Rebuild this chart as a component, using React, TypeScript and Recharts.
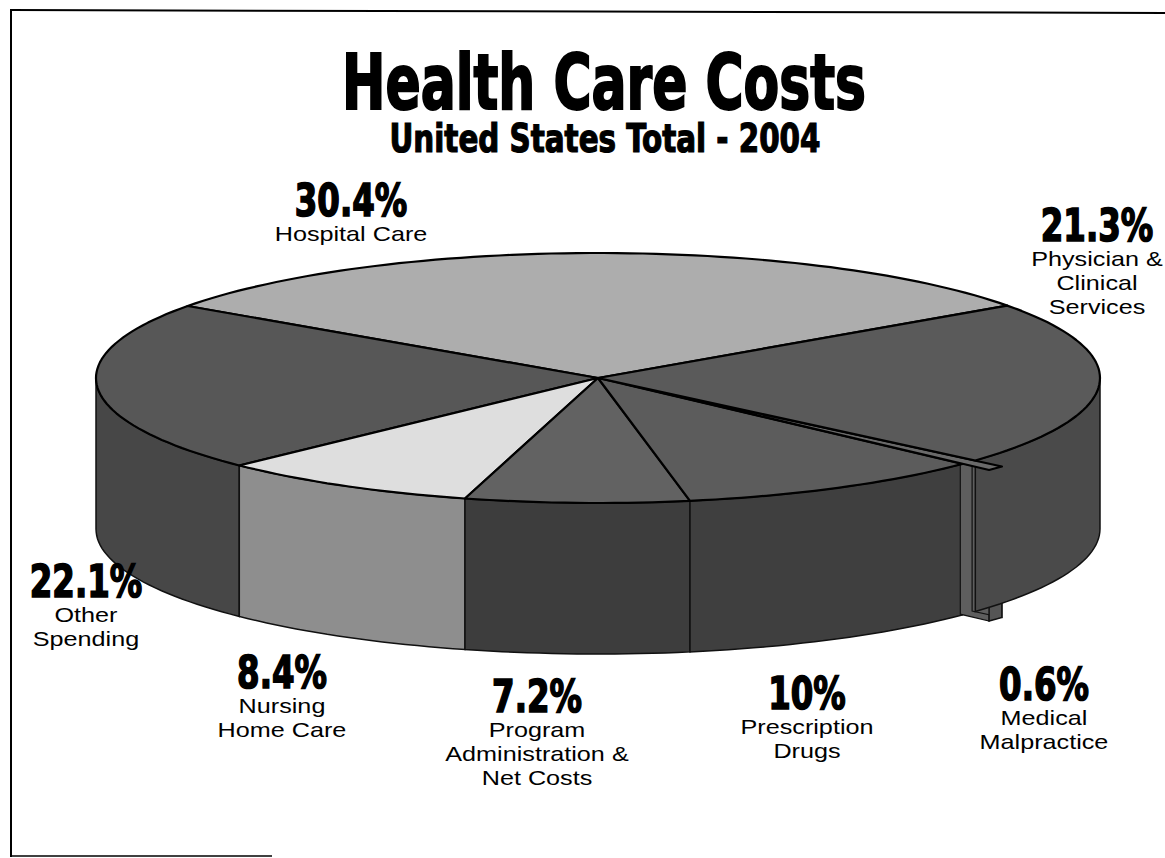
import { PieChart, Pie } from 'recharts';

// slices in counter-clockwise order, starting at the Hospital / Physician boundary
const CATEGORIES = [
  'Hospital Care',
  'Other Spending',
  'Nursing Home Care',
  'Program Administration & Net Costs',
  'Prescription Drugs',
  'Medical Malpractice',
  'Physician & Clinical Services',
];
const SHARES = [30.4, 22.1, 8.4, 7.2, 10, 0.6, 21.3];
const PCT_LABELS = ['30.4%', '22.1%', '8.4%', '7.2%', '10%', '0.6%', '21.3%'];
const NAME_LINES = [
  ['Hospital Care'],
  ['Other', 'Spending'],
  ['Nursing', 'Home Care'],
  ['Program', 'Administration &', 'Net Costs'],
  ['Prescription', 'Drugs'],
  ['Medical', 'Malpractice'],
  ['Physician &', 'Clinical', 'Services'],
];

const TOP_FILL = ['#adadad', '#575757', '#dedede', '#626262', '#5c5c5c', '#6a6a6a', '#5a5a5a'];
const SIDE_FILL = ['#6f6f6f', '#474747', '#8e8e8e', '#3d3d3d', '#3f3f3f', '#555555', '#4a4a4a'];
const EXPLODE = [0, 0, 0, 0, 0, 36, 0];

// label anchors (centre x, baseline of the percentage)
const LABEL_X = [351, 86, 282, 537, 807, 1044, 1097];
const LABEL_Y = [216, 597, 688, 712, 709, 700, 241];

const W = 1165;
const H = 858;
const CX = 598;
const CY = 378;
const R = 502;
const TILT = 125 / 502;
const DEPTH = 151;

const data = CATEGORIES.map((name, i) => ({ name, value: SHARES[i], idx: i }));

type P = [number, number];

function pt(cx: number, cy: number, r: number, deg: number, dz = 0): P {
  const a = (deg * Math.PI) / 180;
  return [cx + r * Math.cos(a), cy - r * TILT * Math.sin(a) + dz];
}

function arc(cx: number, cy: number, r: number, a1: number, a2: number, dz = 0): P[] {
  const n = Math.max(2, Math.ceil(Math.abs(a2 - a1) / 1.5));
  const out: P[] = [];
  for (let i = 0; i <= n; i++) out.push(pt(cx, cy, r, a1 + ((a2 - a1) * i) / n, dz));
  return out;
}

const toPath = (pts: P[]) => 'M' + pts.map((p) => `${p[0].toFixed(1)},${p[1].toFixed(1)}`).join('L') + 'Z';

function offset(props: any): P {
  const i = props.payload?.idx ?? props.idx;
  const e = EXPLODE[i] || 0;
  const m = ((props.startAngle + props.endAngle) / 2) * (Math.PI / 180);
  return [props.cx + e * Math.cos(m), props.cy - e * TILT * Math.sin(m)];
}

function SideShape(props: any) {
  const i = props.payload?.idx ?? props.idx;
  const [cx, cy] = offset(props);
  const r = props.outerRadius;
  const s = props.startAngle;
  const e = props.endAngle;
  const parts: JSX.Element[] = [];
  if (EXPLODE[i]) {
    // only the strip of each cut face that sticks out past the pie rim
    const inner = r - EXPLODE[i] * 1.1;
    [s, e].forEach((a, k) => {
      parts.push(
        <path
          key={'w' + k}
          d={toPath([pt(cx, cy, inner, a), pt(cx, cy, r, a), pt(cx, cy, r, a, DEPTH), pt(cx, cy, inner, a, DEPTH)])}
          fill="#5e5e5e"
          stroke="#111"
          strokeWidth={1.2}
        />
      );
    });
  }
  for (let k = -1; k <= 1; k++) {
    const lo = Math.max(s, 180 + 360 * k);
    const hi = Math.min(e, 360 + 360 * k);
    if (hi > lo) {
      const pts = [...arc(cx, cy, r, lo, hi), ...arc(cx, cy, r, hi, lo, DEPTH)];
      parts.push(
        <path key={'o' + k} d={toPath(pts)} fill={SIDE_FILL[i]} stroke="#111" strokeWidth={1.5} />
      );
    }
  }
  return <g>{parts}</g>;
}

function TopShape(props: any) {
  const i = props.payload?.idx ?? props.idx;
  const [cx, cy] = offset(props);
  const pts: P[] = [[cx, cy], ...arc(cx, cy, props.outerRadius, props.startAngle, props.endAngle)];
  return <path d={toPath(pts)} fill={TOP_FILL[i]} stroke="#000" strokeWidth={2.2} strokeLinejoin="round" />;
}

const NAME_FONT = 20;
const NAME_STRETCH = 1.26;
const PCT_SQUEEZE = 0.8;

export default function App() {
  return (
    <div style={{ position: 'absolute', left: 0, top: 0, width: W, height: H, background: '#fff' }}>
      <div style={{ position: 'absolute', left: 0, top: 0 }}>
        <PieChart width={W} height={H} margin={{ top: 0, right: 0, bottom: 0, left: 0 }}>
          <Pie
            data={data}
            dataKey="value"
            nameKey="name"
            cx={CX}
            cy={CY}
            outerRadius={R}
            startAngle={35.4}
            endAngle={395.4}
            stroke="none"
            shape={SideShape}
            isAnimationActive={false}
          />
          <Pie
            data={data}
            dataKey="value"
            nameKey="name"
            cx={CX}
            cy={CY}
            outerRadius={R}
            startAngle={35.4}
            endAngle={395.4}
            stroke="none"
            shape={TopShape}
            isAnimationActive={false}
          />
        </PieChart>
      </div>
      <svg
        width={W}
        height={H}
        style={{ position: 'absolute', left: 0, top: 0, pointerEvents: 'none' }}
      >
        {/* frame */}
        <line x1={11} y1={10} x2={W} y2={13} stroke="#000" strokeWidth={2} />
        <line x1={11} y1={9} x2={11} y2={857} stroke="#000" strokeWidth={2} />
        <line x1={11} y1={856} x2={272} y2={856} stroke="#000" strokeWidth={1.5} />

        <text
          x={604}
          y={109}
          textAnchor="middle"
          fontFamily="'DejaVu Sans Condensed', sans-serif"
          fontWeight="bold"
          fontSize={76}
          textLength={524}
          lengthAdjust="spacingAndGlyphs"
          stroke="#000"
          strokeWidth={2}
        >
          Health Care Costs
        </text>
        <text
          x={605}
          y={152}
          textAnchor="middle"
          fontFamily="'DejaVu Sans Condensed', sans-serif"
          fontWeight="bold"
          fontSize={39}
          textLength={431}
          lengthAdjust="spacingAndGlyphs"
          stroke="#000"
          strokeWidth={1.2}
        >
          United States Total - 2004
        </text>

        {CATEGORIES.map((c, i) => (
          <g key={c}>
            <text
              transform={`translate(${LABEL_X[i]},${LABEL_Y[i]}) scale(${PCT_SQUEEZE},1)`}
              textAnchor="middle"
              fontFamily="'DejaVu Sans Condensed', sans-serif"
              fontWeight="bold"
              fontSize={45}
              stroke="#000"
              strokeWidth={1.6}
            >
              {PCT_LABELS[i]}
            </text>
            {NAME_LINES[i].map((line, j) => (
              <text
                key={j}
                transform={`translate(${LABEL_X[i]},${LABEL_Y[i] + 25 + j * 24}) scale(${NAME_STRETCH},1)`}
                textAnchor="middle"
                fontFamily="'Liberation Sans', Arial, sans-serif"
                fontSize={NAME_FONT}
              >
                {line}
              </text>
            ))}
          </g>
        ))}
      </svg>
    </div>
  );
}
